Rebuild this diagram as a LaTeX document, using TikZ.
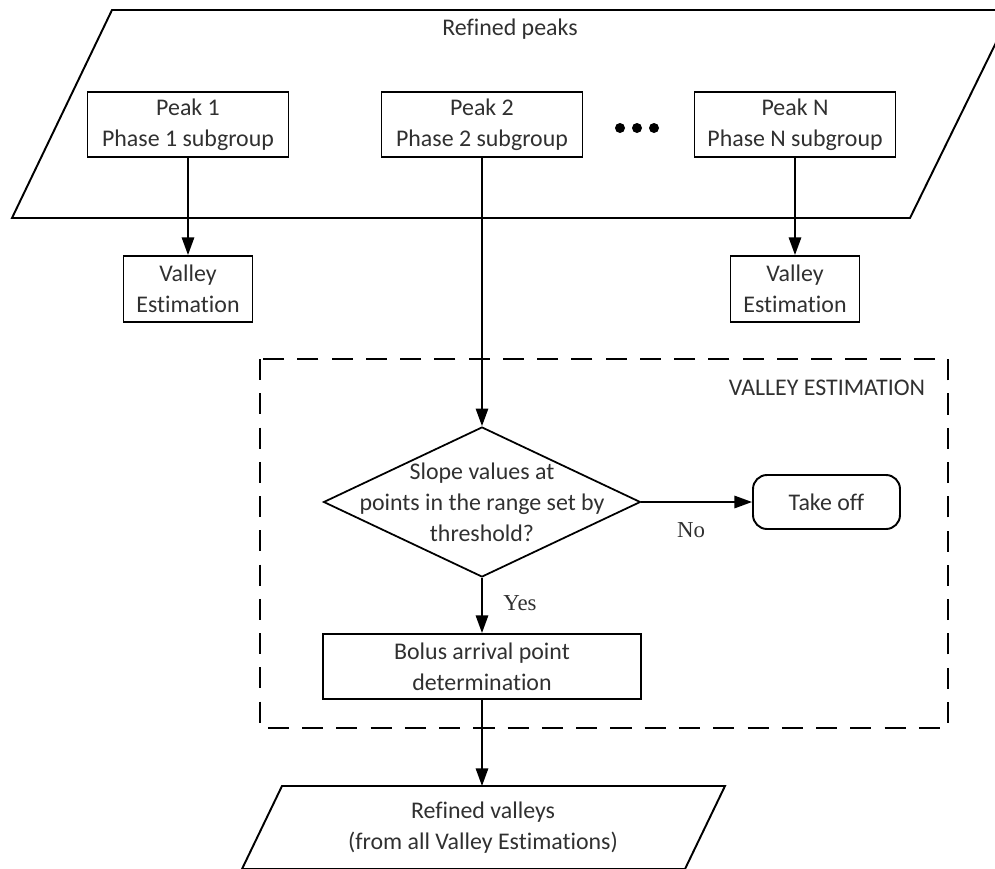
\documentclass[tikz,border=0pt]{standalone}
\usepackage{fontspec}
\setmainfont{Carlito}[Ligatures=NoCommon]
\newfontfamily\labelfont{Liberation Serif}
\usetikzlibrary{arrows.meta,shapes.geometric}

\definecolor{ink}{HTML}{303030}

\tikzset{
  line/.style={line width=1.1pt, draw=black},
  arr/.style={line, -{Triangle[length=10pt,width=7pt]}},
  txt/.style={text=ink, font=\fontsize{13.6}{17.6}\selectfont, align=center, inner sep=0pt},
  box/.style={txt, draw=black, line width=1.1pt},
  decision/.style={diamond, draw=black, line width=1pt, inner sep=0pt,
                   minimum width=6.34cm, minimum height=3cm},
  endbox/.style={box, rounded corners=0.28cm, minimum width=2.94cm, minimum height=1.08cm},
  peakbox/.style={box, minimum width=4.02cm, minimum height=1.3cm},
  valleybox/.style={box, minimum width=2.58cm, minimum height=1.32cm},
  answer/.style={text=ink, font=\labelfont\fontsize{13}{15}\selectfont, inner sep=0pt},
  group/.style={line width=1.1pt, dash pattern=on 12pt off 7.5pt}
}

\begin{document}
\begin{tikzpicture}[x=0.02cm, y=-0.02cm]
  \useasboundingbox (0,0) rectangle (995,869);
  \clip (0,0) rectangle (995,869);

  % input parallelogram holding the refined peaks
  \draw[line] (112,10) -- (1012,10) -- (910,218) -- (12,218) -- cycle;
  \node[txt] (inTitle) at (510,29) {Refined peaks};

  \node[peakbox] (p1) at (188,124.5) {Peak 1\\Phase 1 subgroup};
  \node[peakbox] (p2) at (482,124.5) {Peak 2\\Phase 2 subgroup};
  \node[peakbox] (pN) at (795,124.5) {Peak N\\Phase N subgroup};

  % ellipsis between the peak groups
  \foreach \dx in {620,637,654}
    \fill[black] (\dx,128) circle[radius=0.1cm];

  \node[valleybox] (v1) at (188,289) {Valley\\Estimation};
  \node[valleybox] (vN) at (795,289) {Valley\\Estimation};

  % detailed valley estimation block
  \draw[group] (260,359) rectangle (948,728);
  \node[txt] (grpTitle) at (827,388) {VALLEY ESTIMATION};

  \node[decision] (dia) at (482,502) {};
  \node[txt] (diaText) at (dia.center) {Slope values at\\points in the range set by\\threshold?};

  \node[endbox] (take) at (826.5,502) {Take off};
  \node[box, minimum width=6.36cm, minimum height=1.3cm] (bolus) at (482,666.5)
    {Bolus arrival point\\determination};

  \node[answer] (no) at (691,530) {No};
  \node[answer] (yes) at (520,603) {Yes};

  % output parallelogram
  \draw[line] (282,786) -- (725,786) -- (685,869) -- (242,869) -- cycle;
  \coordinate (outTop) at (482,786);
  \node[txt] (outText) at (483,827.5) {Refined valleys\\(from all Valley Estimations)};

  % connectors
  \draw[arr] (p1) -- (v1);
  \draw[arr] (pN) -- (vN);
  \draw[arr] (p2) -- (dia.north);
  \draw[arr] (dia.east) -- (take.west);
  \draw[arr] (dia.south) -- (bolus.north);
  \draw[arr] (bolus.south) -- (outTop);
\end{tikzpicture}
\end{document}
